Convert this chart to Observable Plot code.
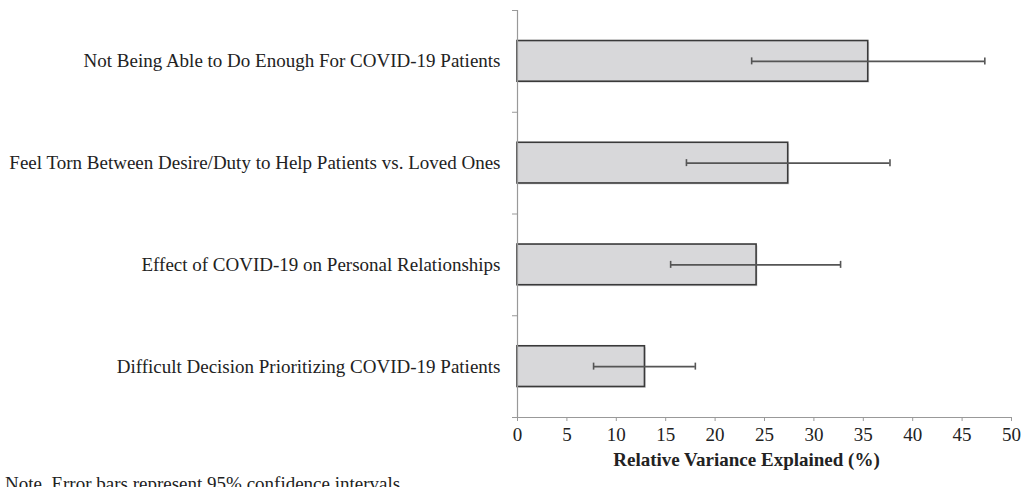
<!DOCTYPE html>
<html>
<head>
<meta charset="utf-8">
<script src="https://cdn.jsdelivr.net/npm/d3@7"></script>
<script src="https://cdn.jsdelivr.net/npm/@observablehq/plot@0.6"></script>
<style>
  html, body { margin: 0; padding: 0; background: #fff; }
  #wrap { position: relative; width: 1025px; height: 487px; overflow: hidden; }
  #note { position: absolute; left: 5px; top: 474px; font-family: "Liberation Serif", "Times New Roman", serif; font-size: 19px; line-height: 19px; color: #222; white-space: nowrap; }
</style>
</head>
<body>
<div id="wrap">
  <div id="chart"></div>
  <div id="note">Note. Error bars represent 95% confidence intervals.</div>
</div>
<script>
const categories = [
  "Not Being Able to Do Enough For COVID-19 Patients",
  "Feel Torn Between Desire/Duty to Help Patients vs. Loved Ones",
  "Effect of COVID-19 on Personal Relationships",
  "Difficult Decision Prioritizing COVID-19 Patients"
];
const values = [35.5, 27.4, 24.2, 12.9];
const ciLow = [23.7, 17.1, 15.5, 7.7];
const ciHigh = [47.3, 37.7, 32.7, 18.0];
const xTicks = [0, 5, 10, 15, 20, 25, 30, 35, 40, 45, 50];

const data = categories.map((c, i) => ({
  cat: c, i, value: values[i], lo: ciLow[i], hi: ciHigh[i],
  y1: i + 0.3, y2: i + 0.7, yc: i + 0.5
}));

const FONT = "Liberation Serif, Times New Roman, serif";

const chart = Plot.plot({
  width: 1025,
  height: 487,
  marginLeft: 517,
  marginRight: 14,
  marginTop: 10,
  marginBottom: 70,
  style: { fontFamily: FONT, fontSize: "19px", color: "#222", background: "#fff" },
  x: { domain: [0, 50] },
  y: { domain: [0, 4], reverse: true },
  marks: [
    Plot.rectX(data, { x1: 0, x2: "value", y1: "y1", y2: "y2", fill: "#cfcfd2", dx: 1.5, dy: 1.5, opacity: 0.7 }),
    Plot.rectX(data, { x1: 0, x2: "value", y1: "y1", y2: "y2", fill: "#d8d8da", stroke: "#3a3a3a", strokeWidth: 1.6 }),
    Plot.ruleY(data, { y: "yc", x1: "lo", x2: "hi", stroke: "#555", strokeWidth: 1.6 }),
    Plot.ruleX(data, { x: "lo", y1: "yc", y2: "yc", insetTop: -3.5, insetBottom: -3.5, stroke: "#555", strokeWidth: 1.6 }),
    Plot.ruleX(data, { x: "hi", y1: "yc", y2: "yc", insetTop: -3.5, insetBottom: -3.5, stroke: "#555", strokeWidth: 1.6 }),
    Plot.ruleX([0], { y1: 0, y2: 4, stroke: "#999", strokeWidth: 1.2 }),
    Plot.ruleY([4], { stroke: "#999", strokeWidth: 1.2 }),
    Plot.axisY({ ticks: [0, 1, 2, 3, 4], tickFormat: () => "", tickSize: 5, stroke: "#999", label: null }),
    Plot.axisX({ ticks: xTicks, tickSize: 4, tickPadding: 6, stroke: "#999", fill: "#222", fontSize: 19, fontFamily: FONT, label: null }),
    Plot.text(data, { x: 0, y: "yc", text: "cat", textAnchor: "end", dx: -17, fontSize: 19, fontFamily: FONT, fill: "#222" }),
    Plot.text(["Relative Variance Explained (%)"], { frameAnchor: "bottom", dx: -18, dy: 48, fontWeight: "bold", fontSize: 19, fontFamily: FONT, fill: "#222" })
  ]
});
document.getElementById("chart").appendChild(chart);
</script>
</body>
</html>
